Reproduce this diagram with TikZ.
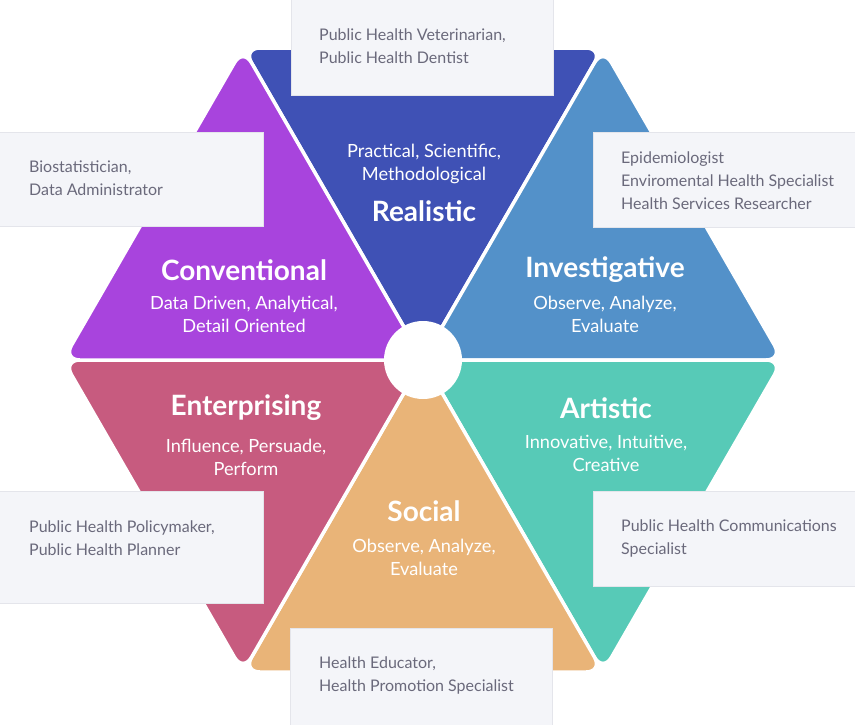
\documentclass[tikz,border=0pt]{standalone}
\usepackage{fontspec}
\setmainfont{Lato}
\usetikzlibrary{calc}
\definecolor{creal}{HTML}{3F51B5}
\definecolor{cinv}{HTML}{5391C9}
\definecolor{cart}{HTML}{57CAB7}
\definecolor{csoc}{HTML}{E9B478}
\definecolor{cent}{HTML}{C75B7F}
\definecolor{ccon}{HTML}{A844DD}
\definecolor{boxfill}{HTML}{F4F5F9}
\definecolor{boxline}{HTML}{E4E5EB}
\definecolor{boxtext}{HTML}{6A697B}
\tikzset{
  tri/.style={draw=white, line width=3.5pt, rounded corners=17pt},
  jobbox/.style={fill=boxfill, draw=boxline, line width=0.8pt},
  jobtext/.style={text=boxtext, font=\fontsize{16}{23}\selectfont, align=left, anchor=west, inner sep=0pt},
  title/.style={text=white, font=\fontsize{28}{32}\selectfont\bfseries, inner sep=0pt},
  sub/.style={text=white, font=\fontsize{18.2}{23}\selectfont, align=center, inner sep=0pt},
}
\begin{document}
\begin{tikzpicture}[x=1pt,y=-1pt]
\useasboundingbox (0,0) rectangle (855,724);
\fill[white] (0,0) rectangle (855,724);
\coordinate (C) at (423,360);
\coordinate (TL) at (243,48);
\coordinate (TR) at (603,48);
\coordinate (RV) at (783,360);
\coordinate (BR) at (603,672);
\coordinate (BL) at (243,672);
\coordinate (LV) at (63,360);
% triangles
\filldraw[tri, fill=creal] ($(TL)!0.5!(TR)$) -- (TR) -- (C) -- (TL) -- cycle;
\filldraw[tri, fill=cinv] ($(TR)!0.5!(RV)$) -- (RV) -- (C) -- (TR) -- cycle;
\filldraw[tri, fill=cart] ($(RV)!0.5!(BR)$) -- (BR) -- (C) -- (RV) -- cycle;
\filldraw[tri, fill=csoc] ($(BR)!0.5!(BL)$) -- (BL) -- (C) -- (BR) -- cycle;
\filldraw[tri, fill=cent] ($(BL)!0.5!(LV)$) -- (LV) -- (C) -- (BL) -- cycle;
\filldraw[tri, fill=ccon] ($(LV)!0.5!(TL)$) -- (TL) -- (C) -- (LV) -- cycle;
\node[circle, fill=white, minimum size=78pt, inner sep=0pt] (hub) at (C) {};
% titles
\node[title] (realistic) at (424,211) {Realistic};
\node[sub] (realsub) at (424,164) {Practical, Scientific,\\Methodological};
\node[title] (investigative) at (605,270) {Investigative};
\node[sub] (invsub) at (605,314) {Observe, Analyze,\\Evaluate};
\node[title] (conventional) at (244,270) {Conventional};
\node[sub] (consub) at (244,314) {Data Driven, Analytical,\\Detail Oriented};
\node[title] (enterprising) at (246,408) {Enterprising};
\node[sub] (entsub) at (246,457) {Influence, Persuade,\\Perform};
\node[title] (artistic) at (606,408) {Artistic};
\node[sub] (artsub) at (606,453) {Innovative, Intuitive,\\Creative};
\node[title] (social) at (424,511) {Social};
\node[sub] (socsub) at (424,557) {Observe, Analyze,\\Evaluate};
% boxes
\draw[jobbox] (291,-5) rectangle (553,95);
\node[jobtext] (jobreal) at (319,46) {Public Health Veterinarian,\\Public Health Dentist};
\draw[jobbox] (-5,132) rectangle (263,226);
\node[jobtext] (jobcon) at (29,178) {Biostatistician,\\Data Administrator};
\draw[jobbox] (593,132) rectangle (860,227);
\node[jobtext] (jobinv) at (621,181) {Epidemiologist\\Enviromental Health Specialist\\Health Services Researcher};
\draw[jobbox] (-5,491) rectangle (263,603);
\node[jobtext] (jobent) at (29,538) {Public Health Policymaker,\\Public Health Planner};
\draw[jobbox] (593,491) rectangle (860,586);
\node[jobtext] (jobart) at (621,538) {Public Health Communications\\Specialist};
\draw[jobbox] (290,628) rectangle (552,730);
\node[jobtext] (jobsoc) at (319,675) {Health Educator,\\Health Promotion Specialist};
\end{tikzpicture}
\end{document}
